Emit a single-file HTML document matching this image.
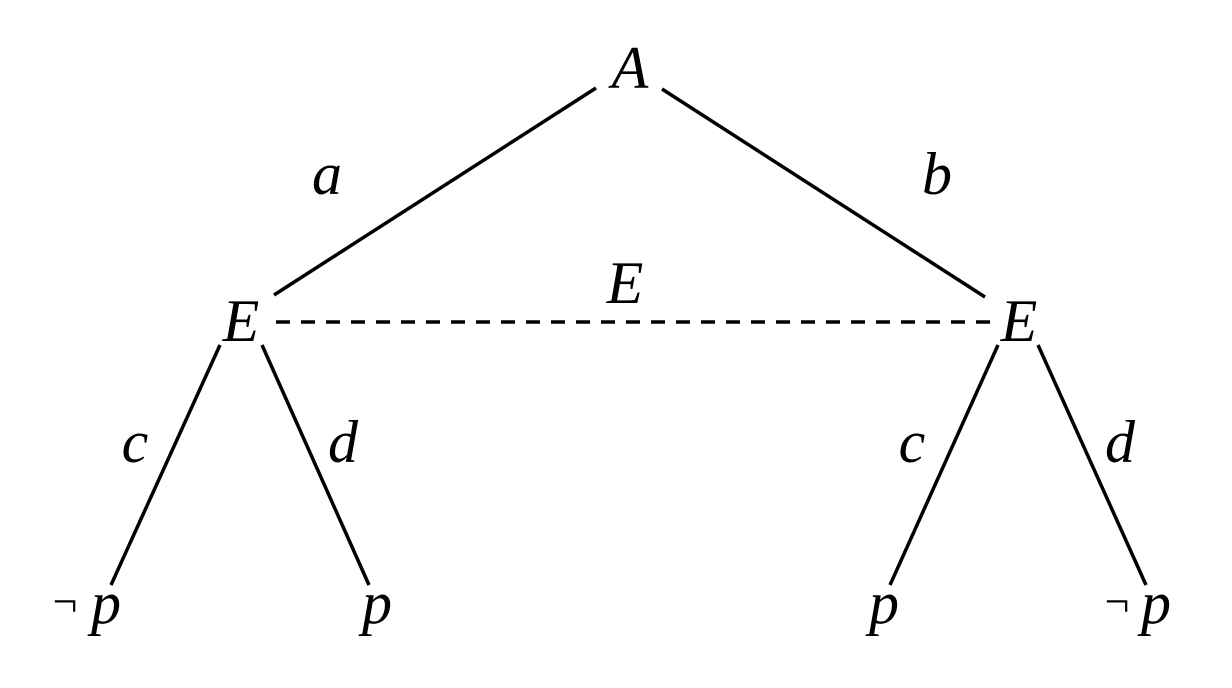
<!DOCTYPE html>
<html><head><meta charset="utf-8"><style>
html,body{margin:0;padding:0;background:#fff;}
svg text{font-family:"Liberation Serif",serif;font-style:italic;font-size:60px;fill:#000;}
svg text.n{font-style:normal;font-size:44px;}
</style></head><body>
<svg width="1232" height="683" viewBox="0 0 1232 683" xmlns="http://www.w3.org/2000/svg">
<g stroke="#000" stroke-width="3.5" fill="none">
<line x1="596" y1="88" x2="274" y2="295"/>
<line x1="662" y1="89" x2="985" y2="297"/>
<line x1="276" y1="322" x2="990" y2="322" stroke-dasharray="14,11"/>
<line x1="220" y1="345" x2="111" y2="585"/>
<line x1="262" y1="345" x2="369" y2="585"/>
<line x1="998" y1="345" x2="890" y2="585"/>
<line x1="1038" y1="345" x2="1146" y2="585"/>
</g>
<text x="630" y="88" text-anchor="middle">A</text>
<text x="327" y="194" text-anchor="middle">a</text>
<text x="937" y="194" text-anchor="middle">b</text>
<text x="625" y="303" text-anchor="middle">E</text>
<text x="241" y="341" text-anchor="middle">E</text>
<text x="1019" y="341" text-anchor="middle">E</text>
<text x="135" y="462" text-anchor="middle">c</text>
<text x="343" y="462" text-anchor="middle">d</text>
<text x="912" y="462" text-anchor="middle">c</text>
<text x="1120" y="462" text-anchor="middle">d</text>
<text class="n" x="65" y="616" text-anchor="middle">¬</text>
<text x="106" y="623" text-anchor="middle">p</text>
<text x="377" y="623" text-anchor="middle">p</text>
<text x="884" y="623" text-anchor="middle">p</text>
<text class="n" x="1117" y="616" text-anchor="middle">¬</text>
<text x="1156" y="623" text-anchor="middle">p</text>
</svg>
</body></html>
